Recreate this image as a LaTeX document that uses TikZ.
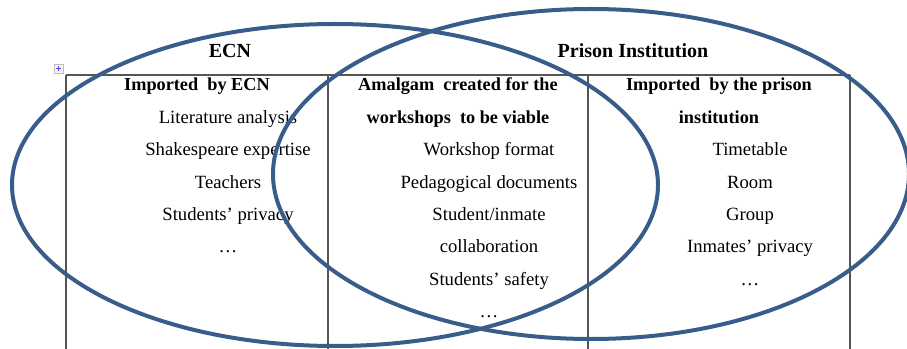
\documentclass[tikz,border=0pt]{standalone}
\usepackage{fontspec}
\setmainfont{Liberation Serif}
\usepackage{xcolor}
\usetikzlibrary{arrows.meta, calc}
\definecolor{VennBlue}{RGB}{56,93,138}
\definecolor{RuleGray}{RGB}{85,85,85}

\begin{document}
\begin{tikzpicture}[x=0.75pt, y=-0.75pt,
	venn/.style={draw=VennBlue, line width=3pt},
	rule/.style={draw=RuleGray, line width=0.8pt},
	title/.style={font=\fontsize{15}{18}\selectfont\bfseries, anchor=base, inner sep=0pt},
	head/.style={font=\fontsize{13.7}{16}\selectfont\bfseries, anchor=base, inner sep=0pt},
	item/.style={font=\fontsize{14}{16}\selectfont, anchor=base, inner sep=0pt}]

	\useasboundingbox (0,0) rectangle (907,349);

	\def\rowtop{91}
	\def\rowsep{32.4}

	% table corners
	\coordinate (A) at (66,75);
	\coordinate (B) at (328,75);
	\coordinate (C) at (588,75);
	\coordinate (D) at (850,75);
	\coordinate (Bottom) at (0,349);

	\draw[rule] (A) -- (D);
	\draw[rule] (A) -- (A |- Bottom);
	\draw[rule] (B) -- (B |- Bottom);
	\draw[rule] (C) -- (C |- Bottom);
	\draw[rule] (D) -- (D |- Bottom);

	% table handle
	\draw[draw=gray!50, fill=gray!8, line width=0.4pt] (54,64) rectangle (63,73);
	\draw[blue!70, line width=0.5pt, {Latex[length=1.4pt]}-{Latex[length=1.4pt]}] (55.5,68.5) -- (61.5,68.5);
	\draw[blue!70, line width=0.5pt, {Latex[length=1.4pt]}-{Latex[length=1.4pt]}] (58.5,65.5) -- (58.5,71.5);

	% titles
	\node[title] (ECN) at (230,58) {ECN};
	\node[title] (Prison) at (633,58) {Prison Institution};

	% first column
	\node[head] (hA) at (197,{\rowtop}) {Imported\ \ by ECN};
	\node[item] (a1) at (228,{\rowtop+\rowsep}) {Literature analysis};
	\node[item] (a2) at (228,{\rowtop+2*\rowsep}) {Shakespeare expertise};
	\node[item] (a3) at (228,{\rowtop+3*\rowsep}) {Teachers};
	\node[item] (a4) at (228,{\rowtop+4*\rowsep}) {Students’ privacy};
	\node[item] (a5) at (228,{\rowtop+5*\rowsep}) {…};

	% second column
	\node[head] (hB) at (458,{\rowtop}) {Amalgam\ \ created for the};
	\node[head] (hB2) at (458,{\rowtop+\rowsep}) {workshops\ \ to be viable};
	\node[item] (b1) at (489,{\rowtop+2*\rowsep}) {Workshop format};
	\node[item] (b2) at (489,{\rowtop+3*\rowsep}) {Pedagogical documents};
	\node[item] (b3) at (489,{\rowtop+4*\rowsep}) {Student/inmate};
	\node[item] (b4) at (489,{\rowtop+5*\rowsep}) {collaboration};
	\node[item] (b5) at (489,{\rowtop+6*\rowsep}) {Students’ safety};
	\node[item] (b6) at (489,{\rowtop+7*\rowsep}) {…};

	% third column
	\node[head] (hC) at (719,{\rowtop}) {Imported\ \ by the prison};
	\node[head] (hC2) at (719,{\rowtop+\rowsep}) {institution};
	\node[item] (c1) at (750,{\rowtop+2*\rowsep}) {Timetable};
	\node[item] (c2) at (750,{\rowtop+3*\rowsep}) {Room};
	\node[item] (c3) at (750,{\rowtop+4*\rowsep}) {Group};
	\node[item] (c4) at (750,{\rowtop+5*\rowsep}) {Inmates’ privacy};
	\node[item] (c5) at (750,{\rowtop+6*\rowsep}) {…};

	% the two sets
	\draw[venn] (335,185) ellipse [x radius=323, y radius=161];
	\draw[venn] (591,174) ellipse [x radius=318, y radius=165];

\end{tikzpicture}
\end{document}
